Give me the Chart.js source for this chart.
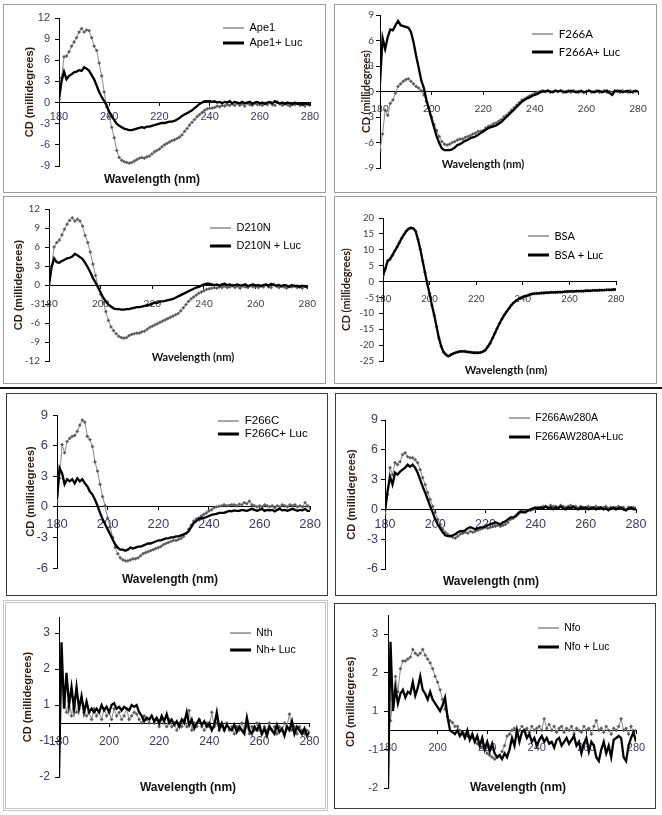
<!DOCTYPE html>
<html>
<head>
<meta charset="utf-8">
<script src="https://cdn.jsdelivr.net/npm/chart.js"></script>
<style>
html, body { margin: 0; padding: 0; background: #fff; }
#page { position: relative; width: 662px; height: 815px; overflow: hidden; background: #fff; }
canvas { position: absolute; }
.frame { position: absolute; box-sizing: border-box; pointer-events: none; }
#sep { position: absolute; left: 0; top: 387px; width: 662px; height: 2px; background: #111; }
</style>
</head>
<body>
<div id="page"><div id="sep"></div></div>
<script>
// wavelength axis (nm), one reading per nm
const wavelength = [
  180, 181, 182, 183, 184, 185, 186, 187, 188, 189,
  190, 191, 192, 193, 194, 195, 196, 197, 198, 199,
  200, 201, 202, 203, 204, 205, 206, 207, 208, 209,
  210, 211, 212, 213, 214, 215, 216, 217, 218, 219,
  220, 221, 222, 223, 224, 225, 226, 227, 228, 229,
  230, 231, 232, 233, 234, 235, 236, 237, 238, 239,
  240, 241, 242, 243, 244, 245, 246, 247, 248, 249,
  250, 251, 252, 253, 254, 255, 256, 257, 258, 259,
  260, 261, 262, 263, 264, 265, 266, 267, 268, 269,
  270, 271, 272, 273, 274, 275, 276, 277, 278, 279,
  280
];

// Ape1
const ape1 = [
  0.4, 3.5, 6.5, 6.6, 7.2, 8.0, 8.6, 9.2, 10.0, 10.5,
  10.0, 10.3, 10.2, 9.2, 8.0, 7.4, 5.6, 3.8, 1.5, -0.6,
  -2.0, -3.5, -5.0, -6.8, -7.8, -8.2, -8.4, -8.5, -8.6, -8.5,
  -8.3, -8.1, -7.9, -7.8, -7.9, -7.7, -7.6, -7.3, -7.0, -6.8,
  -6.6, -6.3, -6.0, -5.8, -5.6, -5.4, -5.3, -5.1, -4.9, -4.6,
  -4.1, -3.7, -3.2, -2.8, -2.4, -2.0, -1.7, -1.4, -1.1, -0.9,
  -0.8, -0.8, -0.7, -0.5, -0.6, -0.4, -0.5, -0.3, -0.4, -0.2,
  -0.4, -0.1, -0.4, -0.2, -0.5, -0.1, -0.3, -0.4, -0.1, -0.3,
  -0.2, -0.4, -0.1, -0.3, 0.0, -0.3, -0.4, 0.1, -0.2, -0.4,
  -0.2, -0.3, -0.5, -0.2, -0.3, -0.1, -0.4, -0.3, -0.5, -0.2,
  -0.4
];
const ape1Luc = [
  0.4, 3.0, 4.4, 3.3, 3.8, 4.0, 4.3, 4.4, 4.6, 4.5,
  5.0, 4.8, 4.5, 3.9, 3.3, 2.4, 1.5, 0.8, 0.2, -0.4,
  -1.3, -1.9, -2.5, -3.0, -3.3, -3.5, -3.7, -3.8, -3.9, -3.9,
  -3.8, -3.7, -3.6, -3.5, -3.6, -3.4, -3.4, -3.3, -3.2, -3.1,
  -3.0, -2.9, -2.9, -2.8, -2.7, -2.7, -2.6, -2.4, -2.2, -1.9,
  -1.7, -1.5, -1.3, -1.1, -0.8, -0.5, -0.2, 0.0, 0.2, 0.2,
  0.2, 0.1, 0.2, 0.0, 0.1, -0.1, 0.1, 0.0, 0.2, -0.1,
  0.1, 0.0, -0.1, 0.1, -0.1, 0.0, 0.1, -0.2, 0.0, 0.1,
  -0.1, 0.0, -0.2, 0.0, 0.1, -0.1, 0.2, 0.0, -0.1, 0.0,
  -0.2, 0.0, -0.1, -0.3, 0.0, -0.2, -0.1, -0.3, -0.1, -0.2,
  -0.3
];

// F266A
const f266a = [
  -6.9, -5.0, -2.2, -2.8, -1.4, -1.0, -0.2, 0.6, 0.9, 1.2,
  1.4, 1.5, 1.2, 0.9, 0.6, 0.4, 0.1, -0.4, -1.2, -2.0,
  -3.0, -3.9, -4.6, -5.3, -5.9, -6.2, -6.3, -6.2, -6.0, -5.9,
  -5.7, -5.6, -5.6, -5.4, -5.3, -5.2, -5.0, -4.9, -4.7, -4.7,
  -4.6, -4.3, -4.1, -4.0, -3.8, -3.7, -3.5, -3.3, -3.0, -2.8,
  -2.5, -2.2, -1.9, -1.6, -1.3, -1.0, -0.9, -0.7, -0.5, -0.4,
  -0.2, -0.1, 0.0, 0.1, 0.0, 0.1, -0.1, 0.0, 0.1, 0.0,
  0.1, -0.1, 0.0, 0.1, -0.1, 0.1, 0.0, -0.1, 0.0, -0.1,
  0.0, 0.1, -0.1, 0.0, 0.1, -0.1, 0.0, 0.1, -0.1, 0.0,
  -0.3, 0.0, 0.1, -0.1, 0.1, 0.0, -0.1, 0.1, -0.1, 0.0,
  0.0
];
const f266aLuc = [
  1.0, 6.3, 5.0, 6.4, 7.3, 7.2, 7.8, 8.3, 7.8, 7.7,
  7.6, 7.5, 7.0, 5.8, 4.2, 2.8, 1.3, 0.4, -1.0, -2.1,
  -3.2, -4.3, -5.3, -6.1, -6.7, -6.9, -6.9, -6.9, -6.8, -6.6,
  -6.3, -6.2, -6.0, -5.8, -5.7, -5.5, -5.4, -5.3, -5.1, -4.9,
  -4.7, -4.5, -4.3, -4.2, -4.1, -4.0, -3.8, -3.6, -3.3, -3.0,
  -2.7, -2.4, -2.1, -1.8, -1.5, -1.2, -1.0, -0.8, -0.7, -0.5,
  -0.4, -0.3, -0.1, 0.0, 0.0, 0.1, 0.0, -0.1, 0.1, 0.0,
  0.1, 0.0, -0.1, 0.0, 0.1, 0.0, -0.1, 0.0, 0.1, -0.1,
  0.0, 0.1, 0.0, -0.1, 0.0, 0.1, -0.1, 0.0, 0.1, -0.2,
  -0.4, 0.1, 0.0, 0.1, -0.1, 0.0, 0.1, -0.1, 0.0, 0.1,
  0.0
];

// D210N
const d210n = [
  0.0, 3.0, 6.0, 6.7, 7.1, 7.9, 8.8, 9.6, 10.2, 10.6,
  10.1, 10.4, 10.1, 9.3, 7.8, 6.7, 5.2, 3.3, 1.5, -0.2,
  -1.5, -2.8, -4.2, -5.6, -6.6, -7.2, -7.7, -8.1, -8.3, -8.4,
  -8.3, -8.0, -7.8, -7.7, -7.6, -7.6, -7.4, -7.3, -7.0, -6.7,
  -6.5, -6.3, -6.1, -5.9, -5.7, -5.5, -5.3, -5.1, -4.9, -4.7,
  -4.5, -4.1, -3.6, -3.1, -2.6, -2.2, -1.9, -1.6, -1.3, -1.1,
  -0.9, -0.7, -0.6, -0.5, -0.4, -0.5, -0.3, -0.4, -0.2, -0.4,
  -0.3, -0.1, -0.4, -0.2, -0.5, -0.2, -0.3, -0.4, -0.1, -0.3,
  -0.2, -0.4, -0.1, -0.3, 0.0, -0.3, -0.4, 0.1, -0.2, -0.4,
  -0.2, -0.3, -0.5, -0.2, -0.3, -0.1, -0.4, -0.3, -0.5, -0.2,
  -0.4
];
const d210nLuc = [
  0.0, 2.8, 4.2, 3.6, 3.5, 3.8, 4.0, 4.2, 4.3, 4.5,
  4.9, 4.7, 4.4, 4.1, 3.5, 2.8, 2.0, 1.1, 0.4, -0.4,
  -1.2, -2.0, -2.6, -3.1, -3.4, -3.7, -3.8, -3.8, -3.9, -3.9,
  -3.8, -3.8, -3.7, -3.6, -3.5, -3.5, -3.4, -3.3, -3.2, -3.1,
  -2.9, -2.8, -2.8, -2.6, -2.6, -2.5, -2.4, -2.3, -2.2, -2.0,
  -1.8, -1.6, -1.4, -1.2, -1.0, -0.8, -0.6, -0.4, -0.3, -0.1,
  0.1, 0.2, 0.2, 0.1, 0.0, 0.1, -0.1, 0.1, 0.2, 0.0,
  0.1, -0.1, 0.0, 0.1, -0.1, 0.0, 0.1, -0.2, 0.0, 0.1,
  -0.1, 0.0, -0.2, 0.0, 0.1, -0.1, 0.2, 0.0, -0.1, 0.0,
  -0.2, 0.0, -0.1, -0.3, 0.0, -0.2, -0.1, -0.3, -0.1, -0.2,
  -0.3
];

// BSA
const bsa = [
  1.9, 4.0, 6.5, 7.0, 8.2, 9.6, 10.9, 12.2, 13.6, 14.8,
  15.9, 16.6, 16.9, 16.7, 15.9, 13.3, 10.2, 6.5, 2.9, -0.7,
  -3.8, -7.5, -10.6, -14.2, -17.8, -20.4, -22.2, -23.0, -23.5, -23.1,
  -22.7, -22.4, -22.2, -22.0, -22.0, -22.0, -22.1, -22.2, -22.3, -22.4,
  -22.4, -22.4, -22.3, -22.0, -21.5, -20.5, -19.4, -17.8, -16.3, -14.7,
  -13.2, -11.8, -10.6, -9.5, -8.5, -7.5, -6.7, -6.1, -5.6, -5.2,
  -4.9, -4.6, -4.4, -4.1, -3.9, -3.8, -3.7, -3.7, -3.6, -3.6,
  -3.5, -3.5, -3.4, -3.4, -3.4, -3.3, -3.3, -3.3, -3.2, -3.2,
  -3.1, -3.1, -3.1, -3.0, -3.0, -3.0, -3.0, -2.9, -2.9, -2.9,
  -2.8, -2.8, -2.8, -2.7, -2.7, -2.7, -2.6, -2.6, -2.6, -2.5,
  -2.5
];
const bsaLuc = [
  1.9, 4.1, 6.4, 7.1, 8.2, 9.6, 10.8, 12.2, 13.6, 14.8,
  15.9, 16.6, 16.9, 16.7, 15.8, 13.3, 10.2, 6.5, 2.9, -0.7,
  -3.8, -7.5, -10.6, -14.2, -17.8, -20.4, -22.2, -23.0, -23.5, -23.1,
  -22.7, -22.4, -22.2, -22.0, -22.0, -22.0, -22.1, -22.2, -22.3, -22.4,
  -22.4, -22.4, -22.3, -22.0, -21.5, -20.5, -19.4, -17.8, -16.3, -14.7,
  -13.2, -11.8, -10.6, -9.5, -8.5, -7.5, -6.7, -6.1, -5.6, -5.2,
  -4.9, -4.6, -4.4, -4.1, -3.9, -3.8, -3.7, -3.7, -3.6, -3.6,
  -3.5, -3.5, -3.4, -3.4, -3.4, -3.3, -3.3, -3.3, -3.2, -3.2,
  -3.1, -3.1, -3.1, -3.0, -3.0, -3.0, -3.0, -2.9, -2.9, -2.9,
  -2.8, -2.8, -2.8, -2.7, -2.7, -2.7, -2.6, -2.6, -2.6, -2.5,
  -2.5
];

// F266C
const f266c = [
  0.5, 2.8, 6.1, 5.3, 6.4, 6.7, 6.9, 7.0, 7.4, 8.0,
  8.5, 8.3, 6.9, 6.6, 5.9, 4.4, 3.5, 2.2, 1.0, 0.1,
  -1.1, -2.0, -3.0, -4.0, -4.6, -5.0, -5.2, -5.3, -5.3, -5.2,
  -5.1, -5.1, -5.0, -4.8, -4.6, -4.5, -4.4, -4.3, -4.2, -4.1,
  -4.0, -3.9, -3.7, -3.6, -3.5, -3.4, -3.3, -3.3, -3.2, -3.1,
  -2.9, -2.6, -2.2, -1.8, -1.4, -1.2, -1.1, -0.9, -0.75, -0.6,
  -0.4, -0.3, -0.1, 0.0, 0.05, 0.1, 0.2, 0.1, 0.15, 0.2,
  0.2, 0.1, 0.25, 0.2, 0.4, 0.3, 0.55, 0.2, 0.1, 0.0,
  0.1, 0.0, 0.2, 0.1, 0.0, 0.1, -0.1, 0.1, 0.0, 0.2,
  0.1, 0.0, 0.2, 0.1, 0.2, 0.0, 0.1, 0.0, 0.4, 0.1,
  -0.1
];
const f266cLuc = [
  0.7, 3.8, 3.3, 2.2, 2.7, 2.5, 2.7, 2.3, 2.8, 2.5,
  2.7, 2.3, 2.0, 1.5, 1.2, 0.7, 0.1, -0.6, -1.2, -1.7,
  -2.2, -2.7, -3.2, -3.7, -4.0, -4.2, -4.2, -4.3, -4.2, -4.0,
  -4.1, -4.0, -3.9, -3.9, -3.8, -3.7, -3.6, -3.6, -3.5, -3.4,
  -3.3, -3.3, -3.2, -3.1, -3.1, -3.0, -3.0, -2.9, -2.9, -2.8,
  -2.7, -2.6, -2.4, -2.0, -1.6, -1.4, -1.2, -1.1, -1.1, -1.0,
  -0.9, -0.8, -0.75, -0.7, -0.6, -0.6, -0.6, -0.5, -0.4, -0.45,
  -0.35, -0.4, -0.4, -0.3, -0.35, -0.4, -0.3, -0.2, -0.3, -0.4,
  -0.3, -0.2, -0.4, -0.3, -0.35, -0.3, -0.45, -0.3, -0.2, -0.35,
  -0.3, -0.4, -0.3, -0.2, -0.3, -0.4, -0.3, -0.35, -0.2, -0.4,
  -0.4
];

// F266Aw280A
const f266aw = [
  -0.5, 1.5, 4.2, 3.5, 4.7, 4.5, 4.8, 5.5, 5.7, 5.3,
  5.2, 5.2, 5.0, 4.7, 4.0, 3.2, 2.5, 1.7, 1.0, 0.3,
  -0.3, -1.0, -1.5, -2.0, -2.3, -2.5, -2.7, -2.8, -2.9, -2.7,
  -2.5, -2.4, -2.3, -2.4, -2.2, -2.3, -2.2, -2.1, -2.0, -1.9,
  -1.8, -1.9, -1.8, -1.7, -1.7, -1.6, -1.7, -1.6, -1.5, -1.3,
  -1.0, -0.9, -0.7, -0.5, -0.3, -0.2, -0.2, -0.1, -0.1, 0.0,
  0.1, 0.2, 0.2, 0.3, 0.3, 0.2, 0.4, 0.3, 0.3, 0.2,
  0.4, 0.3, 0.2, 0.3, 0.4, 0.2, 0.3, 0.1, 0.3, 0.2,
  0.1, 0.3, 0.2, 0.1, 0.3, 0.2, 0.1, 0.2, 0.3, 0.1,
  0.2, 0.1, 0.2, 0.3, 0.1, 0.2, 0.0, 0.2, 0.1, 0.2,
  0.15
];
const f266awLuc = [
  -0.2, 1.8, 3.3, 2.5, 3.7, 3.5, 3.8, 4.0, 4.2, 4.5,
  4.3, 4.5, 4.2, 3.7, 3.0, 2.3, 1.7, 1.0, 0.3, -0.3,
  -1.0, -1.5, -1.9, -2.3, -2.6, -2.7, -2.7, -2.6, -2.5, -2.3,
  -2.2, -2.2, -2.1, -1.9, -1.8, -1.9, -2.0, -1.9, -1.8, -1.8,
  -1.7, -1.6, -1.5, -1.4, -1.3, -1.4, -1.5, -1.3, -1.2, -1.0,
  -0.8, -0.8, -0.7, -0.4, -0.2, -0.3, -0.3, -0.1, 0.0, 0.1,
  0.2, 0.1, 0.2, 0.1, 0.3, 0.1, 0.2, 0.0, 0.2, 0.1,
  0.3, 0.1, 0.0, 0.2, 0.1, 0.3, 0.1, 0.0, 0.2, 0.1,
  0.2, 0.0, 0.1, 0.2, 0.0, 0.1, 0.2, 0.0, 0.1, -0.1,
  0.1, 0.2, 0.0, 0.1, 0.2, 0.0, -0.1, 0.1, 0.2, 0.0,
  0.0
];

// Nth (values read against the printed tick positions)
const nth = [
  -0.3, 1.8, 1.3, 0.8, 1.1, 0.7, 1.2, 0.8, 0.9, 1.1,
  0.8, 0.7, 0.8, 0.6, 0.9, 0.7, 0.8, 0.6, 0.9, 0.7,
  0.8, 0.6, 0.9, 0.7, 0.8, 0.6, 0.7, 0.9, 0.6, 0.7,
  0.8, 0.75, 0.6, 0.5, 0.7, 0.6, 0.5, 0.7, 0.5, 0.6,
  0.4, 0.6, 0.5, 0.4, 0.6, 0.4, 0.5, 0.3, 0.5, 0.4,
  0.6, 0.4, 0.85, 0.3, 0.5, 0.4, 0.6, 0.4, 0.3, 0.5,
  0.4, 0.8, 0.4, 0.5, 0.3, 0.4, 0.3, 0.5, 0.3, 0.4,
  0.2, 0.4, 0.3, 0.5, 0.3, 0.4, 0.2, 0.4, 0.3, 0.5,
  0.3, 0.2, 0.4, 0.3, 0.5, 0.3, 0.4, 0.2, 0.4, 0.3,
  0.5, 0.4, 0.75, 0.3, 0.4, 0.2, 0.4, 0.3, 0.2, 0.3,
  0.25
];
const nthLuc = [
  -1.0, 2.75, 0.9, 1.9, 1.0, 1.5, 0.9, 1.5, 0.9, 1.25,
  0.8, 1.1, 0.8, 0.9, 0.8, 0.9, 0.8, 1.0, 0.85, 0.95,
  0.8, 1.0, 1.05, 0.9, 0.95, 0.85, 0.95, 0.9, 0.85, 1.0,
  0.95, 1.0, 0.8, 0.7, 0.55, 0.65, 0.6, 0.7, 0.55, 0.65,
  0.5, 0.7, 0.55, 0.75, 0.5, 0.6, 0.45, 0.55, 0.4, 0.6,
  0.5, 0.8, 0.45, 0.6, 0.35, 0.5, 0.6, 0.45, 0.55, 0.4,
  0.5, 0.3, 0.45, 0.8, 0.35, 0.5, 0.3, 0.45, 0.35, 0.3,
  0.45, 0.25, 0.4, 0.3, 0.2, 0.65, 0.3, 0.2, 0.4, 0.3,
  0.45, 0.2, 0.35, 0.15, 0.4, 0.3, 0.2, 0.45, 0.25, 0.35,
  0.15, 0.4, 0.3, 0.55, 0.2, 0.4, 0.3, 0.2, 0.35, 0.15,
  0.25
];

// Nfo
const nfo = [
  0.7, 0.75, 1.3, 1.9, 1.5, 2.1, 2.3, 2.3, 2.35, 2.4,
  2.6, 2.5, 2.45, 2.5, 2.6, 2.45, 2.35, 2.25, 2.1, 1.9,
  1.75, 1.55, 1.3, 1.05, 0.85, 0.75, 0.7, 0.6, 0.6, 0.5,
  0.45, 0.4, 0.35, 0.3, 0.3, 0.2, 0.15, 0.1, 0.05, 0.0,
  -0.1, -0.15, -0.2, -0.25, -0.2, -0.15, -0.05, 0.1, 0.35, 0.4,
  0.5, 0.55, 0.45, 0.5, 0.6, 0.5, 0.55, 0.45, 0.6, 0.5,
  0.55, 0.6, 0.5, 0.8, 0.55, 0.65, 0.5, 0.6, 0.45, 0.55,
  0.6, 0.45, 0.55, 0.5, 0.6, 0.4, 0.55, 0.5, 0.45, 0.6,
  0.5, 0.55, 0.4, 0.6, 0.75, 0.5, 0.55, 0.45, 0.6, 0.5,
  0.4, 0.55, 0.5, 0.6, 0.8, 0.5, 0.55, 0.4, 0.6, 0.45,
  0.5
];
const nfoLuc = [
  -1.0, 2.8, 1.0, 1.6, 1.2, 1.45, 1.55, 1.35, 1.5, 1.45,
  1.75, 1.4, 1.6, 1.9, 1.55, 1.45, 1.3, 1.5, 1.3, 1.2,
  1.1, 1.0, 1.15, 1.35, 0.85, 0.5, 0.45, 0.4, 0.5, 0.35,
  0.45, 0.3, 0.5, 0.25, 0.4, 0.2, 0.35, 0.1, 0.3, 0.0,
  0.2, -0.05, 0.15, -0.1, -0.2, -0.15, -0.25, -0.1, -0.2, 0.0,
  0.3, 0.1, 0.5, 0.2, 0.45, 0.5, 0.3, 0.4, 0.2, 0.3,
  0.1, 0.25, 0.35, 0.2, 0.3, 0.15, 0.2, 0.05, 0.25, 0.3,
  0.1, 0.2, 0.3, 0.15, 0.25, 0.35, 0.1, 0.2, -0.1, 0.15,
  0.3, -0.05, 0.2, 0.1, -0.2, -0.3, 0.0, 0.2, -0.1, 0.1,
  -0.2, 0.25, 0.3, 0.35, 0.3, -0.2, -0.3, 0.1, 0.3, 0.45,
  0.2
];

// y-axis ranges [min, max, step]
const yTicksApe1 = [-9, 12, 3];
const yTicksF266A = [-9, 9, 3];
const yTicksD210N = [-12, 12, 3];
const yTicksBSA = [-25, 20, 5];
const yTicksF266C = [-6, 9, 3];
const yTicksF266Aw = [-6, 9, 3];
const yTicksNth = [-1, 3.45, 1];
const yTicksNfo = [-1, 3.48, 1];
// the two bottom panels print these labels (no "0") at evenly spaced ticks
const splitTickLabels = ['-2', '-1', '1', '2', '3'];

const ARIAL = '"Liberation Sans", Arial, sans-serif';
const CALIBRI = 'Lato, "Open Sans", sans-serif';
const fnt = (family, size, weight) => ({ family: family, size: size, weight: weight || 'normal' });
const PURPLE = '#3d3a5e';
const GREYTXT = '#404040';

Chart.defaults.font.family = ARIAL;

const panels = [
  { names: ['Ape1', 'Ape1+ Luc'], series: [ape1, ape1Luc], y: yTicksApe1, zero: 0,
    box: [3, 4, 323, 189], frame: '1px solid #9d9d9d', area: [59, 18, 310, 166],
    yTitleX: 30, xTitle: [152, 180], legend: [223, 28], legendStep: 15,
    tickFont: fnt(ARIAL, 11), tickColor: PURPLE, yPad: 5, xPad: 5,
    yTitleFont: fnt(ARIAL, 11, 'bold'), xTitleFont: fnt(ARIAL, 12, 'bold'), legendFont: fnt(ARIAL, 11) },
  { names: ['F266A', 'F266A+ Luc'], series: [f266a, f266aLuc], y: yTicksF266A, zero: 0,
    box: [334, 4, 323, 189], frame: '1px solid #9d9d9d', area: [380, 15, 638, 168],
    yTitleX: 366, xTitle: [483, 164], legend: [532, 34], legendStep: 18,
    tickFont: fnt(CALIBRI, 10), tickColor: GREYTXT, yPad: 2, xPad: 8,
    yTitleFont: fnt(CALIBRI, 11, 'bold'), xTitleFont: fnt(CALIBRI, 11, 'bold'), legendFont: fnt(CALIBRI, 11.5) },
  { names: ['D210N', 'D210N + Luc'], series: [d210n, d210nLuc], y: yTicksD210N, zero: 0,
    box: [3, 196, 323, 188], frame: '1px solid #9d9d9d', area: [49, 209, 310, 361],
    yTitleX: 19, xTitle: [193, 357], legend: [210, 228], legendStep: 18,
    tickFont: fnt(CALIBRI, 10), tickColor: GREYTXT, yPad: 5, xPad: 10,
    yTitleFont: fnt(ARIAL, 11, 'bold'), xTitleFont: fnt(CALIBRI, 11, 'bold'), legendFont: fnt(ARIAL, 11) },
  { names: ['BSA', 'BSA + Luc'], series: [bsa, bsaLuc], y: yTicksBSA, zero: 0,
    box: [334, 196, 323, 188], frame: '1px solid #9d9d9d', area: [383, 218, 616, 361],
    yTitleX: 346, xTitle: [506, 370], legend: [528, 236], legendStep: 19,
    tickFont: fnt(CALIBRI, 9.5), tickColor: GREYTXT, yPad: 5, xPad: 9,
    yTitleFont: fnt(CALIBRI, 11, 'bold'), xTitleFont: fnt(CALIBRI, 11, 'bold'), legendFont: fnt(CALIBRI, 11) },
  { names: ['F266C', 'F266C+ Luc'], series: [f266c, f266cLuc], y: yTicksF266C, zero: 0,
    box: [6, 393, 322, 203], frame: '1.5px solid #3a3a3a', area: [57, 415, 312, 568],
    yTitleX: 31, xTitle: [170, 580], legend: [218, 421], legendStep: 13,
    tickFont: fnt(ARIAL, 13), tickColor: PURPLE, yPad: 5, xPad: 7,
    yTitleFont: fnt(ARIAL, 11, 'bold'), xTitleFont: fnt(ARIAL, 12, 'bold'), legendFont: fnt(ARIAL, 11.5) },
  { names: ['F266Aw280A', 'F266AW280A+Luc'], series: [f266aw, f266awLuc], y: yTicksF266Aw, zero: 0,
    box: [335, 393, 322, 203], frame: '1.5px solid #3a3a3a', area: [385, 420, 636, 569],
    yTitleX: 352, xTitle: [491, 582], legend: [509, 418], legendStep: 19,
    tickFont: fnt(ARIAL, 12.5), tickColor: PURPLE, yPad: 3, xPad: 4.5,
    yTitleFont: fnt(ARIAL, 11, 'bold'), xTitleFont: fnt(ARIAL, 12, 'bold'), legendFont: fnt(ARIAL, 10.5) },
  { names: ['Nth', 'Nh+ Luc'], series: [nth, nthLuc], y: yTicksNth, zero: 0.5, split: true,
    box: [3, 600, 325, 211], frame: '3px double #c4c4c4', area: [59, 617, 310, 777],
    yTitleX: 28, xTitle: [188, 788], legend: [230, 633], legendStep: 17,
    tickFont: fnt(ARIAL, 12), tickColor: PURPLE, yPad: 5, xPad: 8.5,
    yTitleFont: fnt(ARIAL, 11, 'bold'), xTitleFont: fnt(ARIAL, 12, 'bold'), legendFont: fnt(ARIAL, 10.5) },
  { names: ['Nfo', 'Nfo + Luc'], series: [nfo, nfoLuc], y: yTicksNfo, zero: 0.5, split: true,
    box: [334, 603, 322, 206], frame: '1.5px solid #3a3a3a', area: [388, 612, 636, 788],
    yTitleX: 351, xTitle: [518, 788], legend: [538, 628], legendStep: 19,
    tickFont: fnt(ARIAL, 11), tickColor: PURPLE, yPad: 6, xPad: 8,
    yTitleFont: fnt(ARIAL, 11, 'bold'), xTitleFont: fnt(ARIAL, 12, 'bold'), legendFont: fnt(ARIAL, 10.5) }
];

// x-axis title drawn under the plot (the x axis itself sits on the zero line)
const xTitlePlugin = {
  id: 'xTitle',
  afterDraw(chart, args, opts) {
    const ctx = chart.ctx;
    ctx.save();
    ctx.font = opts.css;
    ctx.fillStyle = '#111';
    ctx.textAlign = 'center';
    ctx.textBaseline = 'middle';
    ctx.fillText(opts.text, opts.x, opts.y);
    ctx.restore();
  }
};

// move the chartArea legend to the upper right, as in the figure
const legendShiftPlugin = {
  id: 'legendShift',
  afterLayout(chart, args, opts) {
    const lg = chart.legend;
    if (!lg) return;
    lg.left = opts.x;
    lg.top = opts.y;
    lg.right = chart.width;
    lg.bottom = chart.height;
  }
};

const page = document.getElementById('page');

function makeChart(p) {
  const [bx, by, bw, bh] = p.box;
  const cv = document.createElement('canvas');
  cv.width = bw;
  cv.height = bh;
  cv.style.left = bx + 'px';
  cv.style.top = by + 'px';
  page.appendChild(cv);

  const fr = document.createElement('div');
  fr.className = 'frame';
  fr.style.left = bx + 'px';
  fr.style.top = by + 'px';
  fr.style.width = bw + 'px';
  fr.style.height = bh + 'px';
  fr.style.border = p.frame;
  page.appendChild(fr);

  const [aL, aT, aR, aB] = p.area;
  const lh = p.yTitleFont.size * 1.2;
  const scaleLeft = p.yTitleX - lh / 2;
  const yWidth = aL - scaleLeft;
  const lgPad = p.legendStep - p.legendFont.size;

  new Chart(cv, {
    type: 'line',
    data: {
      labels: wavelength,
      datasets: [
        { label: p.names[0], data: p.series[0], borderColor: '#8a8a8a', borderWidth: 1,
          pointStyle: 'rectRot', pointRadius: 1.6, pointBackgroundColor: '#5a5a5a',
          pointBorderColor: '#5a5a5a', pointBorderWidth: 0.5, order: 1 },
        { label: p.names[1], data: p.series[1], borderColor: '#000', borderWidth: 2.3,
          pointRadius: 0, order: 0 }
      ]
    },
    options: {
      responsive: false,
      animation: false,
      events: [],
      layout: {
        autoPadding: false,
        padding: { left: scaleLeft - bx, top: aT - by, right: bx + bw - aR, bottom: by + bh - aB }
      },
      scales: {
        x: {
          type: 'linear', min: 180, max: 280,
          position: { y: p.zero },
          ticks: { stepSize: 20, font: p.tickFont, color: p.tickColor, padding: p.xPad, autoSkip: false, maxRotation: 0 },
          grid: { drawOnChartArea: false, tickLength: 3, color: '#000' },
          border: { color: '#000', width: 1 }
        },
        y: {
          min: p.y[0], max: p.y[1],
          afterFit: s => { s.width = yWidth; },
          ticks: {
            stepSize: p.y[2], font: p.tickFont, color: p.tickColor, padding: p.yPad,
            autoSkip: false, includeBounds: false,
            callback: p.split ? (v => splitTickLabels[v + 1]) : (v => v)
          },
          grid: { drawOnChartArea: false, tickLength: 4, color: '#000' },
          border: { color: '#000', width: 1 },
          title: { display: true, text: 'CD (millidegrees)', font: p.yTitleFont, color: '#2e1a0e', padding: 0 }
        }
      },
      plugins: {
        tooltip: { enabled: false },
        legend: {
          position: 'chartArea', align: 'start',
          labels: {
            usePointStyle: true, pointStyleWidth: 21, font: p.legendFont, color: '#222', padding: lgPad,
            generateLabels: chart => chart.data.datasets.map((ds, i) => ({
              text: ds.label, datasetIndex: i, hidden: false,
              pointStyle: 'line', strokeStyle: ds.borderColor, fillStyle: ds.borderColor,
              lineWidth: i === 0 ? 1.6 : 3
            }))
          }
        },
        xTitle: {
          text: 'Wavelength (nm)', x: p.xTitle[0] - bx, y: p.xTitle[1] - by,
          css: p.xTitleFont.weight + ' ' + p.xTitleFont.size + 'px ' + p.xTitleFont.family
        },
        legendShift: {
          x: p.legend[0] - bx - lgPad,
          y: p.legend[1] - by - lgPad - p.legendFont.size / 2
        }
      }
    },
    plugins: [xTitlePlugin, legendShiftPlugin]
  });
}

panels.forEach(makeChart);
</script>
</body>
</html>
